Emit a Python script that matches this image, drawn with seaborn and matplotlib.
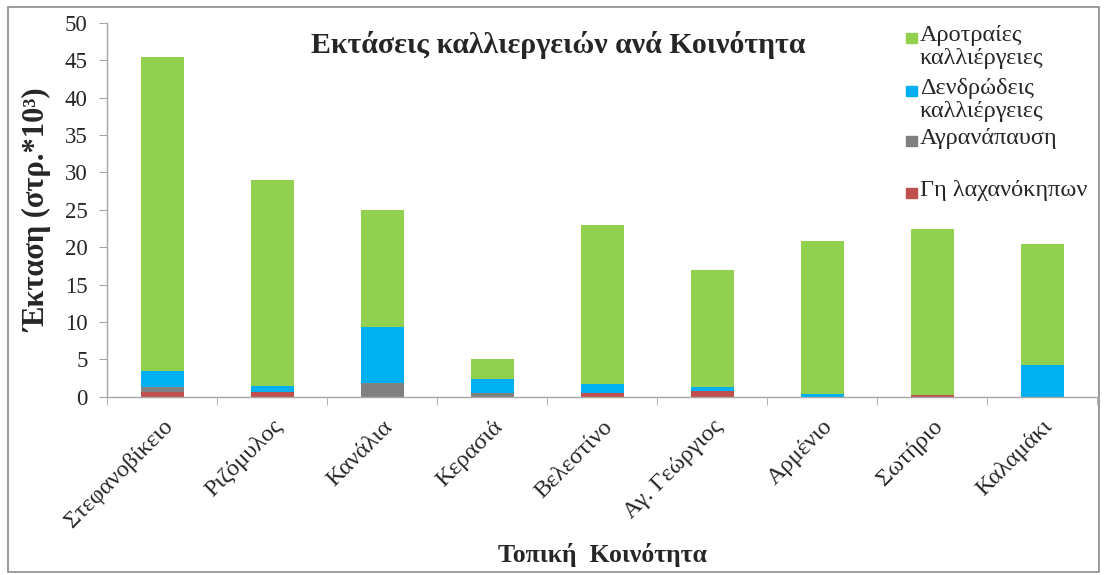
import matplotlib
matplotlib.use("Agg")
import matplotlib.pyplot as plt
import numpy as np
import pandas as pd
import seaborn as sns
from matplotlib.patches import Rectangle

# Δεδομένα (στρ. * 10^3)
koinotites = ['Στεφανοβίκειο', 'Ριζόμυλος', 'Κανάλια', 'Κερασιά', 'Βελεστίνο',
              'Αγ. Γεώργιος', 'Αρμένιο', 'Σωτήριο', 'Καλαμάκι']
lachanokipoi = [0.6, 0.6, 0.0, 0.0, 0.5, 0.75, 0.0, 0.3, 0.0]
agranapausi = [0.7, 0.0, 1.8, 0.5, 0.0, 0.0, 0.0, 0.0, 0.0]
dendrodeis = [2.2, 0.85, 7.5, 1.9, 1.15, 0.6, 0.35, 0.0, 4.3]
arotraies = [42.0, 27.55, 15.7, 2.7, 21.35, 15.65, 20.5, 22.2, 16.1]

series = ['Γη λαχανόκηπων', 'Αγρανάπαυση', 'Δενδρώδεις\nκαλλιέργειες', 'Αροτραίες\nκαλλιέργειες']
colors = ['#C0504D', '#808080', '#00B0F0', '#92D050']

df = pd.DataFrame({'koinotita': koinotites, series[0]: lachanokipoi, series[1]: agranapausi,
                   series[2]: dendrodeis, series[3]: arotraies})
cum = df[series].cumsum(axis=1)
cum['koinotita'] = df['koinotita']

sns.set_style('white')
plt.rcParams['font.family'] = ['Liberation Serif', 'DejaVu Serif']

fig = plt.figure(figsize=(11.05, 5.75), dpi=100)
ax = fig.add_axes([0.097, 0.31, 0.896, 0.65])

# stacked: draw cumulative totals from top layer down
for s, col in zip(series[::-1], colors[::-1]):
    sns.barplot(x='koinotita', y=s, data=cum, color=col, width=0.39,
                saturation=1, linewidth=0, ax=ax)

ax.set_ylim(0, 50)
ax.set_yticks(np.arange(0, 51, 5))
ax.set_xlim(-0.5, len(koinotites) - 0.5)
for sp in ['top', 'right']:
    ax.spines[sp].set_visible(False)
for sp in ['left', 'bottom']:
    ax.spines[sp].set_color('#A6A6A6')
    ax.spines[sp].set_linewidth(1)

ax.set_xticks(np.arange(len(koinotites)))
ax.set_xticklabels(koinotites, rotation=45, ha='right', rotation_mode='anchor', fontsize=17.5)
ax.set_xticks(np.arange(len(koinotites) + 1) - 0.5, minor=True)
ax.tick_params(axis='x', which='major', length=0, pad=14)
ax.tick_params(axis='x', which='minor', length=6, color='#A6A6A6', direction='out', bottom=True)
ax.tick_params(axis='y', length=6, color='#A6A6A6', direction='out', left=True, labelsize=16.5, pad=8)

ax.set_xlabel('Τοπική  Κοινότητα', fontsize=18.5, fontweight='bold', labelpad=8)
ax.set_ylabel('Έκταση (στρ.*10³)', fontsize=22, fontweight='bold', labelpad=9)

fig.text(0.505, 0.922, 'Εκτάσεις καλλιεργειών ανά Κοινότητα', ha='center', va='center',
         fontsize=21.5, fontweight='bold')

# legend (Excel style, marker aligned to first line)
leg_y = [38, 91, 141, 193]
for yy, lab, col in zip(leg_y, series[::-1], colors[::-1]):
    fig.patches.append(Rectangle((906 / 1105, 1 - (yy + 5) / 575), 11 / 1105, 10 / 575,
                                 transform=fig.transFigure, color=col, figure=fig))
    fig.text(920 / 1105, 1 - (yy - 13) / 575, lab, ha='left', va='top', fontsize=17.5,
             linespacing=1.1)

# outer frame
fig.patches.append(Rectangle((0.007, 0.005), 0.988, 0.982, transform=fig.transFigure,
                             fill=False, edgecolor='#8C8C8C', linewidth=1.2, figure=fig))

fig.savefig('out.png', dpi=100)
